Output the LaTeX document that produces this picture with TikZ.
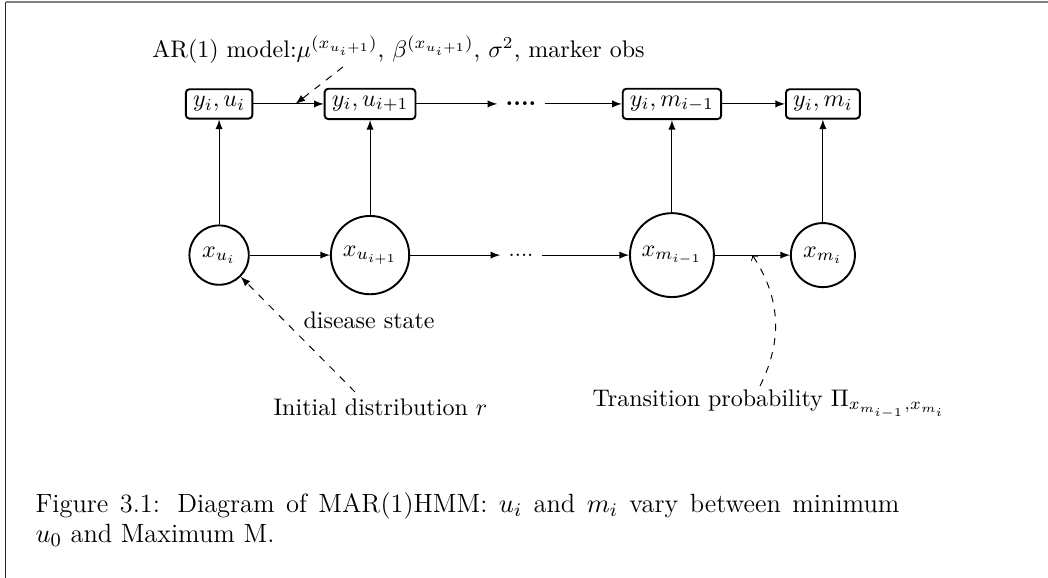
\documentclass[tikz,border=0pt]{standalone}
\usetikzlibrary{positioning,calc}
\begin{document}
\begin{tikzpicture}[x=10pt,y=10pt, obs/.style={draw,thick,rounded corners=1.5pt,inner sep=3pt}, st/.style={draw,thick,circle}, note/.style={dashed,-latex}]
\useasboundingbox (0,0) rectangle (43.67,-24.08);
\draw[gray,line width=.8pt] (.23,-.08)--(43.67,-.08);
\draw[black!85,line width=.8pt] (.23,-.08)--(.23,-24.08);
\path (9.13,-4.33) node[obs] (b1) {$y_i,u_i$} ++(0:6.29) node[obs] (b2) {$y_i,u_{i+1}$} ++(0:6.29) node (bd) {\textbf{....}} ++(0:6.29) node[obs] (b3) {$y_i,m_{i-1}$} ++(0:6.29) node[obs] (b4) {$y_i,m_i$}
(9.13,-10.63) node[st] (c1) {$x_{u_i}$} ++(0:6.29) node[st] (c2) {$x_{u_{i+1}}$} ++(0:6.29) node (cd) {\small ....} ++(0:6.29) node[st] (c3) {$x_{m_{i-1}}$} ++(0:6.29) node[st] (c4) {$x_{m_i}$};
\foreach \a/\b in {b1/b2,b2/bd,bd/b3,b3/b4,c1/c2,c2/cd,cd/c3,c3/c4,c1/b1,c2/b2,c3/b3,c4/b4} \draw[-latex] (\a) -- (\b);
% labels
\node[anchor=west,inner sep=0] (ar) at (6.33,-2.08) {AR(1) model:$\mu^{(x_{u_i+1})}$, $\beta^{(x_{u_i+1})}$, $\sigma^2$, marker obs};
\coordinate (arf) at (14.29,-2.79);
\draw[note] (arf) -- ($(b1.east)!.6!(b2.west)$);
\node[anchor=west,inner sep=0] (dis) at (12.63,-13.33) {disease state};
\node[anchor=west,inner sep=0] (ini) at (11.38,-16.96) {Initial distribution $r$};
\coordinate (inif) at (14.79,-16.33);
\draw[note] (inif) -- (c1.south east);
\node[anchor=west,inner sep=0] (tra) at (24.67,-16.83) {Transition probability $\Pi_{x_{m_{i-1}},x_{m_i}}$};
\coordinate (traf) at (31.67,-16.08);
\draw[dashed,->] (traf) to[bend right=30] ($(c3.east)!.5!(c4.west)$);
\node[anchor=north west,inner sep=0,text width=360pt,align=justify,font=\fontsize{11}{12.5}\selectfont] (cap) at (1.46,-20.5) {Figure 3.1: Diagram of MAR(1)HMM: $u_i$ and $m_i$ vary between minimum\linebreak $u_0$ and Maximum M.};
\end{tikzpicture}
\end{document}
